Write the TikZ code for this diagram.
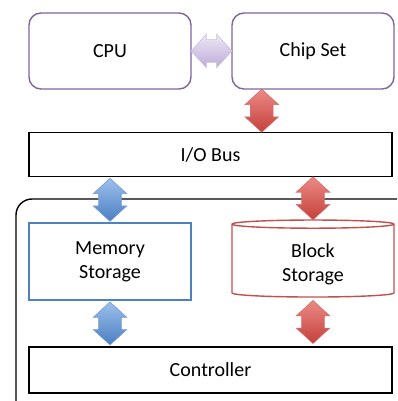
\documentclass[tikz,border=0pt]{standalone}
\usepackage{fontspec}
\setmainfont{Carlito}
\usetikzlibrary{calc,shapes.arrows,shapes.geometric}
\definecolor{cpuline}{HTML}{8064A2}
\definecolor{memline}{HTML}{4F81BD}
\definecolor{blkline}{HTML}{C0504D}
\definecolor{purpA}{HTML}{EDE7F5}
\definecolor{purpB}{HTML}{BDABD9}
\definecolor{redA}{HTML}{EC8A86}
\definecolor{redB}{HTML}{C4403B}
\definecolor{blueA}{HTML}{9DC0EC}
\definecolor{blueB}{HTML}{4A7EC2}
\begin{document}
\begin{tikzpicture}[x=1pt,y=-1pt,font=\fontsize{20}{24}\selectfont,
box/.style={draw=#1,rounded corners=12pt,line width=1.4pt,minimum width=162pt,minimum height=76pt,align=center},
bar/.style={draw=black,line width=1.6pt,minimum width=363pt,minimum height=44pt},
fat/.style={double arrow,draw=#1!75,line width=.6pt,inner xsep=0pt,inner ysep=11pt,
 minimum height=43pt,double arrow head extend=5.5pt,double arrow tip angle=95},
vfat/.style 2 args={fat={#2},rotate=90,top color=#1,bottom color=#2},
hfat/.style 2 args={fat={#2},top color=#1,bottom color=#2}]
\useasboundingbox (0,0) rectangle (397,401);
\clip (0,0) rectangle (397,401);
% outer device frame
\draw[line width=1.4pt,rounded corners=16pt] (16,430) -- (16,199) -- (430,199);
\node[box=cpuline] (cpu) at (110,51) {CPU};
\node[box=cpuline] (chip) at (313,51) {Chip Set};
\node[bar] (bus) at (210.5,154.5) {I/O Bus};
\node[box=memline,rounded corners=0pt,minimum height=77pt] (mem) at (110,261.5) {Memory\\Storage};
\node[cylinder,shape border rotate=90,draw=blkline,line width=1.4pt,aspect=.12,
 minimum width=162pt,minimum height=77pt,align=center] (blk) at (313,261.5) {\\[-4pt]Block\\Storage};
\node[bar,minimum height=46pt] (ctrl) at (210.5,370) {Controller};
% links
\node[hfat={purpA}{purpB},minimum height=41pt] (l1) at ($(cpu.east)!.5!(chip.west)$) {};
\node[vfat={redA}{redB}] (l2) at ($(chip.south)!.5!(bus.north)$) {};
\node[vfat={blueA}{blueB}] (l3) at ($(mem.north|-bus.south)!.5!(mem.north)$) {};
\node[vfat={redA}{redB}] (l4) at ($(blk.north|-bus.south)!.5!(blk.top)$) {};
\node[vfat={blueA}{blueB}] (l5) at ($(mem.south)!.5!(mem.south|-ctrl.north)$) {};
\node[vfat={redA}{redB}] (l6) at ($(blk.bottom)!.5!(blk.bottom|-ctrl.north)$) {};
\end{tikzpicture}
\end{document}
